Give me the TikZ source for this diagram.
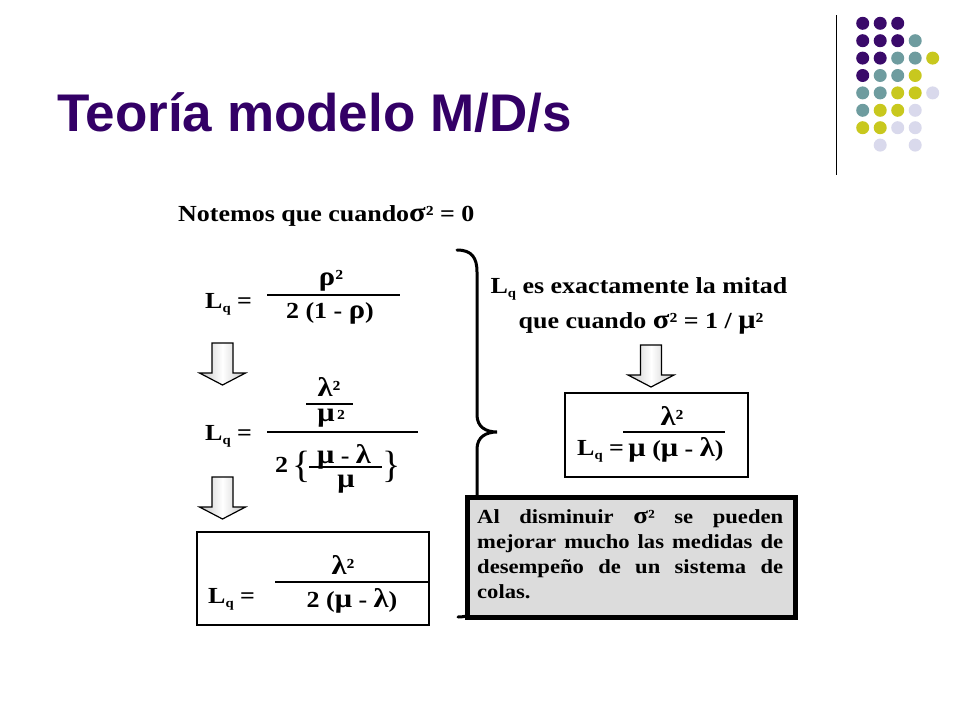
\documentclass[tikz,border=0pt]{standalone}
\usepackage{fontspec}
\setmainfont{Liberation Serif}
\newfontfamily\tnr[FakeStretch=1.13]{Liberation Serif}
\newfontfamily\tnrplain{Liberation Serif}
\newfontfamily\arial{Liberation Sans}
\definecolor{titlepurple}{HTML}{330066}
\definecolor{dpurple}{HTML}{3A0A6A}
\definecolor{dteal}{HTML}{6E9C9F}
\definecolor{dyellow}{HTML}{C8C81E}
\definecolor{dlav}{HTML}{D9D9EC}
\definecolor{boxgray}{HTML}{DCDCDC}
\newcommand\Lq{L\raisebox{-0.4ex}{\fontsize{13}{13}\selectfont q}}
\newcommand\gk[1]{{\fontsize{27}{27}\selectfont #1}}
\newcommand\gks[1]{{\fontsize{24}{24}\selectfont #1}}
\begin{document}
\begin{tikzpicture}[x=1pt,y=-1pt,
  txt/.style={inner sep=0pt, font={\tnr\bfseries\fontsize{23}{27}\selectfont}},
  small/.style={inner sep=0pt, font={\tnr\bfseries\fontsize{20}{25}\selectfont}},
  brc/.style={inner sep=0pt, font={\tnrplain\fontsize{38}{40}\selectfont}},
  fbar/.style={line width=1.4pt},
  dot/.style={circle, inner sep=0pt, minimum size=13pt},
  downarrow/.pic={\draw[line width=1.2pt, left color=gray!45, right color=gray!45, middle color=white]
     (-10.5,0) -- (10.5,0) -- (10.5,30) -- (23,30) -- (0,42) -- (-23,30) -- (-10.5,30) -- cycle;}
  ]
\path[fill=white] (0,0) rectangle (960,720);
\useasboundingbox (0,0) rectangle (960,720);

% title
\node[inner sep=0pt, anchor=base west, text=titlepurple, font={\arial\bfseries\fontsize{53}{60}\selectfont}] (title) at (57,131) {Teoría modelo M/D/s};

% decorative dots and rule
\draw[line width=1.3pt] (836.5,15) -- (836.5,175);
\foreach \c/\r/\col in {1/1/dpurple,2/1/dpurple,3/1/dpurple,
  1/2/dpurple,2/2/dpurple,3/2/dpurple,4/2/dteal,
  1/3/dpurple,2/3/dpurple,3/3/dteal,4/3/dteal,5/3/dyellow,
  1/4/dpurple,2/4/dteal,3/4/dteal,4/4/dyellow,
  1/5/dteal,2/5/dteal,3/5/dyellow,4/5/dyellow,5/5/dlav,
  1/6/dteal,2/6/dyellow,3/6/dyellow,4/6/dlav,
  1/7/dyellow,2/7/dyellow,3/7/dlav,4/7/dlav,
  2/8/dlav,4/8/dlav}
  \node[dot, fill=\col] (d\c\r) at ({845.2+17.5*\c},{5.9+17.4*\r}) {};

% intro line
\node[txt, anchor=base west] (intro) at (178,221) {Notemos que cuando\gk{σ}² = 0};

% equation 1
\node[txt, anchor=base west] (e1l) at (205,308) {\Lq\ =};
\draw[fbar] (267,295) -- (400,295);
\node[txt, anchor=base] (e1n) at (331,285) {\gk{ρ}²};
\node[txt, anchor=base] (e1d) at (330,318) {2 (1 - \gk{ρ})};

\pic (a1) at (222.5,343) {downarrow};

% equation 2
\node[txt, anchor=base west] (e2l) at (205,440) {\Lq\ =};
\draw[fbar] (267,432) -- (418,432);
\node[txt, anchor=base] (e2nn) at (329,396) {\gk{λ}²};
\draw[line width=1.1pt] (306,404) -- (353,404);
\node[txt, anchor=base] (e2nd) at (326,421) {\gk{μ}};
\node[txt, anchor=base west] (e2ns) at (337,425) {²};
\node[txt, anchor=base west] (e2two) at (275,472) {2};
\node[brc, anchor=base] (e2lb) at (302,477) {\{};
\node[txt, anchor=base] (e2in) at (344,463) {\gk{μ} - \gk{λ}};
\draw[line width=1.1pt] (309,467) -- (382,467);
\node[txt, anchor=base] (e2id) at (346,487) {\gk{μ}};
\node[brc, anchor=base] (e2rb) at (392,477) {\}};

\pic (a2) at (222.5,477) {downarrow};

% equation 3 (boxed)
\draw[line width=1.2pt] (197,532) rectangle (429,625);
\node[txt, anchor=base west] (e3l) at (208,603) {\Lq\ =};
\draw[fbar] (275,582) -- (428,582);
\node[txt, anchor=base] (e3n) at (343,574) {\gk{λ}²};
\node[txt, anchor=base] (e3d) at (352,607) {2 (\gk{μ} - \gk{λ})};

% brace
\draw[line width=3pt, line cap=round]
  (457,250) .. controls (472,250) and (477,258) .. (477,272)
  -- (477,415) .. controls (477,427) and (486,432) .. (497,432)
  .. controls (486,432) and (477,437) .. (477,449)
  -- (477,605) .. controls (477,613) and (468,617) .. (458,617);

% right text
\node[txt, anchor=base] (r1) at (639,293) {\Lq\ es exactamente la mitad};
\node[txt, anchor=base] (r2) at (641,328) {que cuando \gk{σ}² = 1 / \gk{μ}²};

\pic (a3) at (651,345) {downarrow};

\draw[line width=1.2pt] (565,393) rectangle (748,477);
\node[txt, anchor=base west] (e4l) at (577,455) {\Lq\ =};
\draw[fbar] (623,432) -- (725,432);
\node[txt, anchor=base] (e4n) at (672,425) {\gk{λ}²};
\node[txt, anchor=base] (e4d) at (676,456) {\gk{μ} (\gk{μ} - \gk{λ})};

% gray note box
\draw[line width=5pt, fill=boxgray] (467.5,497.5) rectangle (795.5,617.5);
\node[small, anchor=base west] (n1) at (477,523) {\makebox[306pt][s]{Al disminuir \gks{σ}² se pueden}};
\node[small, anchor=base west] (n2) at (477,548) {\makebox[306pt][s]{mejorar mucho las medidas de}};
\node[small, anchor=base west] (n3) at (477,573) {\makebox[306pt][s]{desempeño de un sistema de}};
\node[small, anchor=base west] (n4) at (477,598) {colas.};
\end{tikzpicture}
\end{document}
